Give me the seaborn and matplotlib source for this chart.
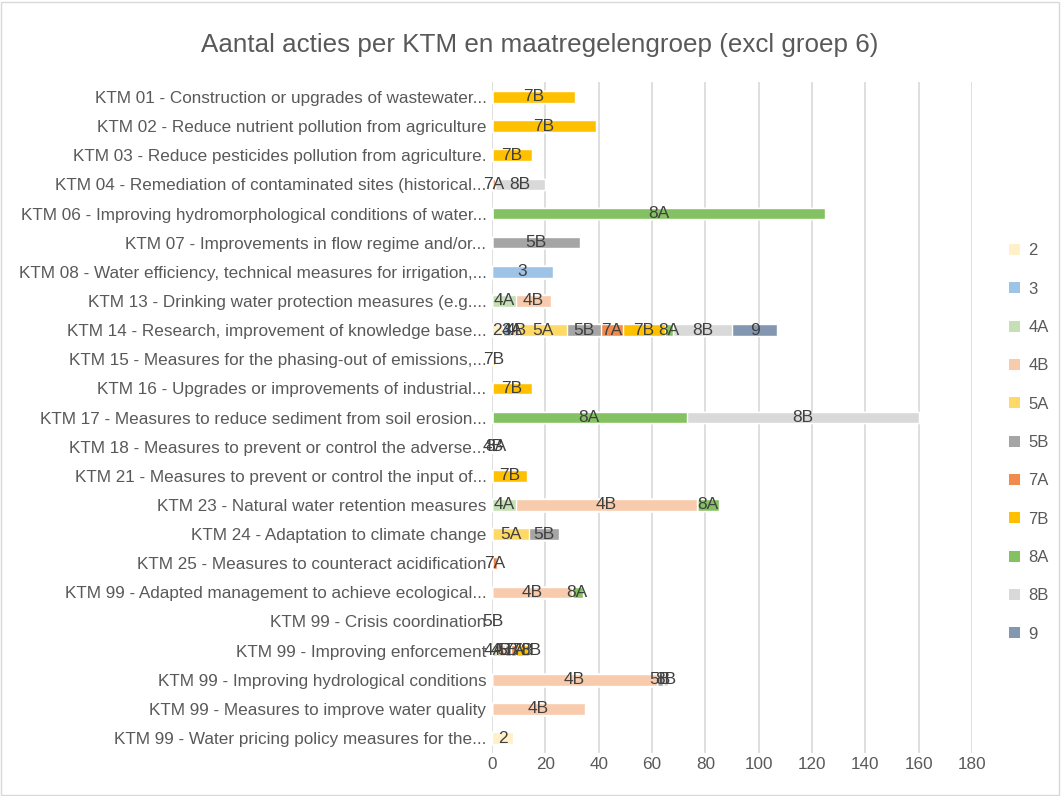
import numpy as np
import pandas as pd
import matplotlib.pyplot as plt
import seaborn as sns
from matplotlib.patches import Rectangle, Patch

# Categories (top to bottom)
categories = [
    "KTM 01 - Construction or upgrades of wastewater...",
    "KTM 02 - Reduce nutrient pollution from agriculture",
    "KTM 03 - Reduce pesticides pollution from agriculture.",
    "KTM 04 - Remediation of contaminated sites (historical...",
    "KTM 06 - Improving hydromorphological conditions of water...",
    "KTM 07 - Improvements in flow regime and/or...",
    "KTM 08 - Water efficiency, technical measures for irrigation,...",
    "KTM 13 - Drinking water protection measures (e.g....",
    "KTM 14 - Research, improvement of knowledge base...",
    "KTM 15 - Measures for the phasing-out of emissions,...",
    "KTM 16 - Upgrades or improvements of industrial...",
    "KTM 17 - Measures to reduce sediment from soil erosion...",
    "KTM 18 - Measures to prevent or control the adverse...",
    "KTM 21 - Measures to prevent or control the input of...",
    "KTM 23 - Natural water retention measures",
    "KTM 24 - Adaptation to climate change",
    "KTM 25 - Measures to counteract acidification",
    "KTM 99 - Adapted management to achieve ecological...",
    "KTM 99 - Crisis coordination",
    "KTM 99 - Improving enforcement",
    "KTM 99 - Improving hydrological conditions",
    "KTM 99 - Measures to improve water quality",
    "KTM 99 - Water pricing policy measures for the...",
]

# Series values, one value per category
s_2  = [0, 0, 0, 0, 0, 0, 0, 0, 4, 0, 0, 0, 0, 0, 0, 0, 0, 0, 0, 0, 0, 0, 8]
s_3  = [0, 0, 0, 0, 0, 0, 23, 0, 3, 0, 0, 0, 0, 0, 0, 0, 0, 0, 0, 0, 0, 0, 0]
s_4A = [0, 0, 0, 0, 0, 0, 0, 9, 1, 0, 0, 0, 0, 0, 9, 0, 0, 0, 0, 2, 0, 0, 0]
s_4B = [0, 0, 0, 0, 0, 0, 0, 13, 2, 0, 0, 0, 1, 0, 68, 0, 0, 30, 0, 3, 62, 35, 0]
s_5A = [0, 0, 0, 0, 0, 0, 0, 0, 18, 0, 0, 0, 0, 0, 0, 14, 0, 0, 0, 0, 0, 0, 0]
s_5B = [0, 0, 0, 0, 0, 33, 0, 0, 13, 0, 0, 0, 0, 0, 0, 11, 0, 0, 1, 2, 2, 0, 0]
s_7A = [0, 0, 0, 1, 0, 0, 0, 0, 8, 0, 0, 0, 0, 0, 0, 0, 2, 0, 0, 2, 0, 0, 0]
s_7B = [31, 39, 15, 0, 0, 0, 0, 0, 16, 1, 15, 0, 0, 13, 0, 0, 0, 0, 0, 5, 0, 0, 0]
s_8A = [0, 0, 0, 0, 125, 0, 0, 0, 3, 0, 0, 73, 1, 0, 8, 0, 0, 4, 0, 0, 0, 0, 0]
s_8B = [0, 0, 0, 19, 0, 0, 0, 0, 22, 0, 0, 87, 0, 0, 0, 0, 0, 0, 0, 1, 2, 0, 0]
s_9  = [0, 0, 0, 0, 0, 0, 0, 0, 17, 0, 0, 0, 0, 0, 0, 0, 0, 0, 0, 0, 0, 0, 0]

series_names = ["2", "3", "4A", "4B", "5A", "5B", "7A", "7B", "8A", "8B", "9"]
series_values = [s_2, s_3, s_4A, s_4B, s_5A, s_5B, s_7A, s_7B, s_8A, s_8B, s_9]
series_colors = ["#FFF0C8", "#9DC3E6", "#C5E0B4", "#F8CBAD", "#FFD966", "#A5A5A5",
                 "#F08B4C", "#FFC000", "#84C163", "#D9D9D9", "#8497B0"]

sns.set_style("white")
plt.rcParams["font.family"] = ["Liberation Sans", "DejaVu Sans"]

fig = plt.figure(figsize=(10.61, 7.96), dpi=100)
ax = fig.add_axes([0.4637, 0.0545, 0.4524, 0.842])

vals = np.array(series_values, dtype=float)
cum = np.cumsum(vals, axis=0)

# stacked bars: draw cumulative totals from the last series backwards
for k in range(len(series_names) - 1, -1, -1):
    df = pd.DataFrame({"cat": categories, "val": cum[k]})
    sns.barplot(data=df, x="val", y="cat", order=categories, color=series_colors[k],
                saturation=1, width=0.4, orient="h", ax=ax, zorder=3)

# data labels centred in each segment
for k, name in enumerate(series_names):
    for i in range(len(categories)):
        v = vals[k, i]
        if v > 0:
            left = cum[k, i] - v
            ax.text(left + v / 2, i, name, ha="center", va="center",
                    fontsize=12.5, color="#404040", zorder=5)

ax.set_xlim(0, 180)
ax.set_xticks(range(0, 181, 20))
ax.set_xlabel("")
ax.set_ylabel("")
ax.grid(axis="x", color="#D9D9D9", linewidth=1.2, zorder=0)
ax.set_axisbelow(True)
for sp in ax.spines.values():
    sp.set_visible(False)
ax.tick_params(axis="both", length=0, labelsize=12.3, colors="#595959")
ax.tick_params(axis="y", pad=4)

fig.text(0.509, 0.943, "Aantal acties per KTM en maatregelengroep (excl groep 6)",
         ha="center", va="center", fontsize=18.7, color="#595959")

handles = [Patch(facecolor=c, edgecolor="none") for c in series_colors]
fig.legend(handles, series_names, loc="center left", bbox_to_anchor=(0.945, 0.444),
           frameon=False, fontsize=12, labelcolor="#595959", labelspacing=1.4,
           handlelength=0.65, handleheight=0.65, handletextpad=0.5, borderaxespad=0)

fig.patches.append(Rectangle((0.001, 0.001), 0.997, 0.997, transform=fig.transFigure,
                             fill=False, edgecolor="#D9D9D9", linewidth=1))

plt.savefig("out.png", dpi=100)
